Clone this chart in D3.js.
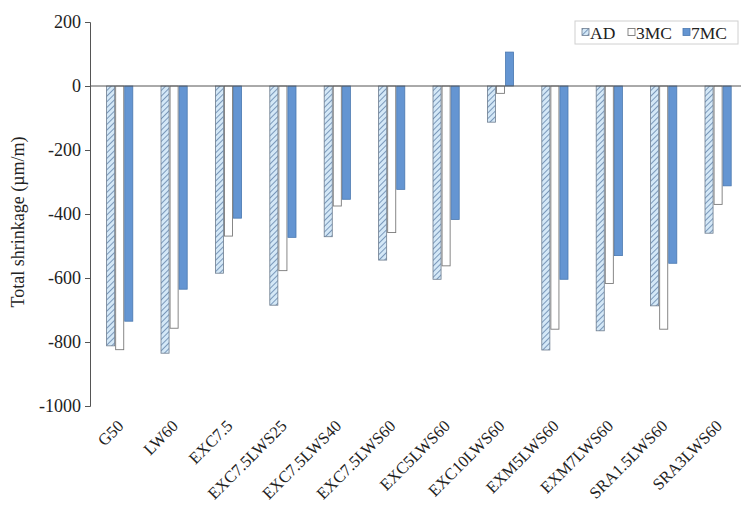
<!DOCTYPE html>
<html>
<head>
<meta charset="utf-8">
<script src="https://cdn.jsdelivr.net/npm/d3@7/dist/d3.min.js"></script>
<style>
  html, body { margin: 0; padding: 0; background: #fff; }
  svg { display: block; font-family: "Liberation Serif", "Times New Roman", serif; }
</style>
</head>
<body>
<svg id="chart" width="741" height="510"></svg>
<script>
// Mix designations along the x axis
const categories = ["G50", "LW60", "EXC7.5", "EXC7.5LWS25", "EXC7.5LWS40", "EXC7.5LWS60",
  "EXC5LWS60", "EXC10LWS60", "EXM5LWS60", "EXM7LWS60", "SRA1.5LWS60", "SRA3LWS60"];

// Curing regimes
const seriesNames = ["AD", "3MC", "7MC"];

// Total shrinkage (µm/m) per curing regime
const adValues  = [-812, -835, -585, -685, -471, -544, -604, -113, -825, -765, -687, -460];
const mc3Values = [-824, -757, -469, -577, -375, -458, -562,  -23, -760, -617, -760, -370];
const mc7Values = [-735, -635, -413, -473, -354, -323, -417,  106, -604, -530, -554, -312];

const yTicks = [200, 0, -200, -400, -600, -800, -1000];

const seriesValues = { "AD": adValues, "3MC": mc3Values, "7MC": mc7Values };

const svg = d3.select("#chart");

const y = d3.scaleLinear().domain([-1000, 200]).range([406, 22]);

const x0 = d3.scaleBand().domain(categories).range([92.5, 745.3])
  .paddingInner(0.5).paddingOuter(0.25);
const x1 = d3.scaleBand().domain(seriesNames).range([0, x0.bandwidth()]);

// Hatch pattern for the air-dried series
const defs = svg.append("defs");
const hatch = defs.append("pattern")
  .attr("id", "hatchAD")
  .attr("patternUnits", "userSpaceOnUse")
  .attr("width", 4).attr("height", 4)
  .attr("patternTransform", "rotate(45)");
hatch.append("rect").attr("width", 4).attr("height", 4).attr("fill", "#d4e8f7");
hatch.append("line").attr("x1", 0).attr("y1", 0).attr("x2", 0).attr("y2", 4)
  .attr("stroke", "#6384ab").attr("stroke-width", 1.6);

const styles = {
  "AD":  { fill: "url(#hatchAD)", stroke: "#6d7c8e", width: 0.8 },
  "3MC": { fill: "#ffffff", stroke: "#7a7a7a", width: 0.9 },
  "7MC": { fill: "#6495d2", stroke: "#4a78b0", width: 0.8 }
};

// Bars
const groups = svg.append("g").selectAll("g")
  .data(categories)
  .join("g")
  .attr("transform", d => `translate(${x0(d)},0)`);

groups.selectAll("rect")
  .data((cat, i) => seriesNames.map(s => ({ s, v: seriesValues[s][i] })))
  .join("rect")
  .attr("x", d => x1(d.s) + 0.5)
  .attr("width", x1.bandwidth() - 1)
  .attr("y", d => y(Math.max(0, d.v)))
  .attr("height", d => Math.abs(y(d.v) - y(0)))
  .attr("fill", d => styles[d.s].fill)
  .attr("stroke", d => styles[d.s].stroke)
  .attr("stroke-width", d => styles[d.s].width);

// Zero line
svg.append("line")
  .attr("x1", 90).attr("x2", 741)
  .attr("y1", y(0)).attr("y2", y(0))
  .attr("stroke", "#555").attr("stroke-width", 1);

// Y axis
const yAxis = svg.append("g")
  .attr("transform", "translate(90,0)")
  .call(d3.axisLeft(y).tickValues(yTicks).tickSize(5).tickPadding(4).tickFormat(d => String(d)));
yAxis.select(".domain").attr("stroke", "#555");
yAxis.selectAll(".tick line").attr("stroke", "#555");
yAxis.selectAll(".tick text")
  .attr("font-size", 18)
  .attr("font-family", "Liberation Serif, Times New Roman, serif")
  .attr("fill", "#222");

// Y axis title
svg.append("text")
  .attr("transform", "translate(24,222) rotate(-90)")
  .attr("text-anchor", "middle")
  .attr("font-size", 18)
  .attr("fill", "#222")
  .text("Total shrinkage (µm/m)");

// Category labels, slanted
svg.append("g").selectAll("text")
  .data(categories)
  .join("text")
  .attr("transform", d => `translate(${x0(d) + x0.bandwidth() / 2 + 5},${427}) rotate(-45)`)
  .attr("text-anchor", "end")
  .attr("font-size", 16.5)
  .attr("fill", "#222")
  .text(d => d);

// Legend
const legend = svg.append("g");
legend.append("rect")
  .attr("x", 575).attr("y", 21).attr("width", 163).attr("height", 23)
  .attr("fill", "#fff").attr("stroke", "#d0d0d0").attr("stroke-width", 1);
const legendX = { "AD": 582, "3MC": 628, "7MC": 683 };
seriesNames.forEach(s => {
  legend.append("rect")
    .attr("x", legendX[s]).attr("y", 28.5).attr("width", 7).attr("height", 7)
    .attr("fill", styles[s].fill).attr("stroke", styles[s].stroke)
    .attr("stroke-width", styles[s].width);
  legend.append("text")
    .attr("x", legendX[s] + 8).attr("y", 39)
    .attr("font-size", 17.5)
    .attr("fill", "#222")
    .text(s);
});
</script>
</body>
</html>
